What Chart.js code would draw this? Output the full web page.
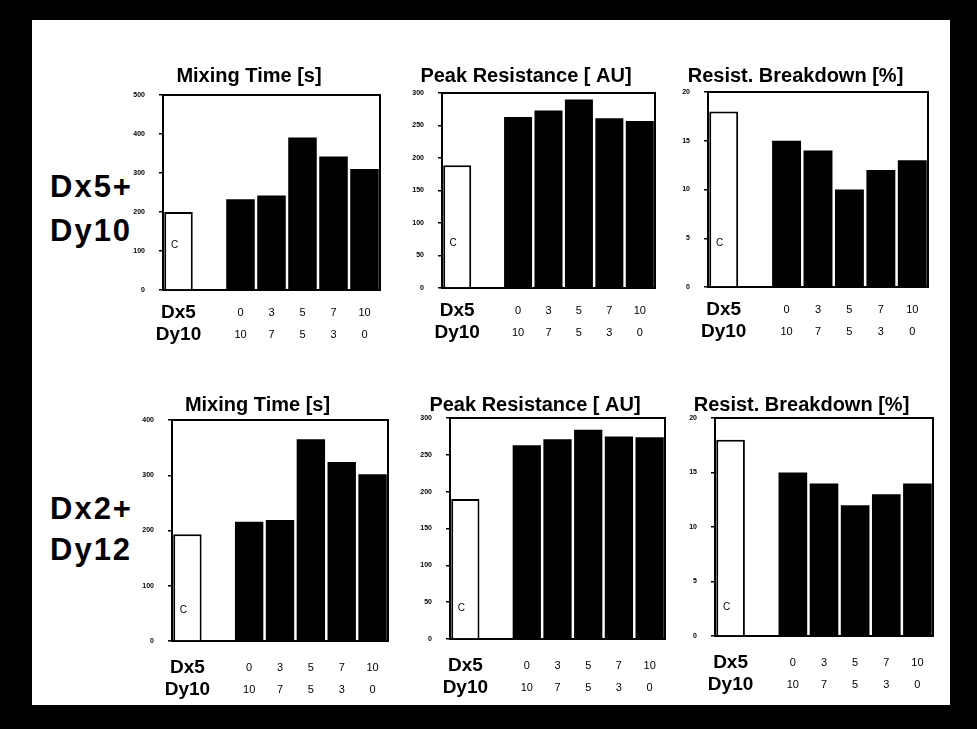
<!DOCTYPE html>
<html>
<head>
<meta charset="utf-8">
<script src="https://cdn.jsdelivr.net/npm/chart.js@4"></script>
<style>
  html, body { margin: 0; padding: 0; background: #000; overflow: hidden; }
  body { width: 977px; height: 729px; position: relative; font-family: "Liberation Sans", Arial, sans-serif; }
  #sheet { position: absolute; left: 32px; top: 20px; width: 918px; height: 685px; background: #fff; }
  canvas { position: absolute; }
  .rowlabel { position: absolute; left: 50px; font-weight: bold; font-size: 31px; letter-spacing: 2px; color: #000; }
</style>
</head>
<body>
<div id="sheet"></div>
<div class="rowlabel" style="top:165px; line-height:44px;">Dx5+<br>Dy10</div>
<div class="rowlabel" style="top:488px; line-height:41px;">Dx2+<br>Dy12</div>

<canvas id="c1"></canvas>
<canvas id="c2"></canvas>
<canvas id="c3"></canvas>
<canvas id="c4"></canvas>
<canvas id="c5"></canvas>
<canvas id="c6"></canvas>

<script>
// x categories: control, empty slot, then the Dx5 / Dy10 ratios
const dx5Labels = ['Dx5', '', '0', '3', '5', '7', '10'];
const dy10Labels = ['Dy10', '', '10', '7', '5', '3', '0'];

// top row: Dx5 + Dy10
const mixingTimeA = [200, null, 233, 242, 391, 342, 310];
const peakResistanceA = [189, null, 263, 273, 290, 261, 257];
const breakdownA = [18, null, 15, 14, 10, 12, 13];

// bottom row: Dx2 + Dy12
const mixingTimeB = [193, null, 216, 219, 365, 324, 302];
const peakResistanceB = [190, null, 263, 271, 284, 275, 274];
const breakdownB = [18, null, 15, 14, 12, 13, 14];

const titles = ['Mixing Time [s]', 'Peak Resistance [ AU]', 'Resist. Breakdown [%]'];

const FONT = '"Liberation Sans", Arial, sans-serif';

// box round the plot area (top and right edges, axes draw the rest)
const framePlugin = {
    id: 'frame',
    afterDraw(chart) {
        const a = chart.chartArea;
        const ctx = chart.ctx;
        ctx.save();
        ctx.strokeStyle = '#000';
        ctx.lineWidth = 2;
        ctx.beginPath();
        ctx.moveTo(a.left, a.top);
        ctx.lineTo(a.right, a.top);
        ctx.lineTo(a.right, a.bottom);
        ctx.stroke();
        ctx.restore();
    }
};

// "C" mark inside the control bar
const controlPlugin = {
    id: 'controlMark',
    afterDatasetsDraw(chart, args, opts) {
        const bar = chart.getDatasetMeta(0).data[0];
        const a = chart.chartArea;
        const ctx = chart.ctx;
        ctx.save();
        ctx.fillStyle = '#000';
        ctx.font = '10px ' + FONT;
        ctx.textAlign = 'center';
        ctx.textBaseline = 'middle';
        ctx.fillText('C', bar.x - 4, a.bottom - opts.frac * (a.bottom - a.top));
        ctx.restore();
    }
};

function makePanel(id, p) {
    const canvas = document.getElementById(id);
    const left = p.L - 45;
    const width = Math.round(2 * (p.titleX - left));
    const top = p.T - 24 - p.titlePad;
    const height = p.B + 60 - top;
    canvas.width = width;
    canvas.height = height;
    canvas.style.left = left + 'px';
    canvas.style.top = top + 'px';

    const labels = dx5Labels.map((d, i) => [d, dy10Labels[i]]);

    new Chart(canvas, {
        type: 'bar',
        data: {
            labels: labels,
            datasets: [{
                data: p.values,
                backgroundColor: p.values.map((v, i) => i === 0 ? '#fff' : '#000'),
                borderColor: '#000',
                borderWidth: p.values.map((v, i) => i === 0 ? 2 : 0),
                categoryPercentage: 1,
                barPercentage: 0.92
            }]
        },
        options: {
            responsive: false,
            animation: false,
            layout: { padding: { left: 0, top: 0, bottom: 0, right: left + width - p.R } },
            plugins: {
                legend: { display: false },
                tooltip: { enabled: false },
                title: {
                    display: true,
                    text: p.title,
                    color: '#000',
                    font: { family: FONT, size: 20, weight: 'bold', lineHeight: 1.2 },
                    padding: { top: 0, bottom: p.titlePad }
                },
                controlMark: { frac: p.cFrac }
            },
            scales: {
                x: {
                    afterFit(scale) { scale.height = 60; },
                    grid: { display: false },
                    border: { display: true, color: '#000', width: 2 },
                    ticks: {
                        color: '#000',
                        padding: p.tickPad,
                        maxRotation: 0,
                        autoSkip: false,
                        font: (c) => c.index === 0
                            ? { family: FONT, size: 19, weight: 'bold', lineHeight: '22px' }
                            : { family: FONT, size: 11, lineHeight: '22px' }
                    }
                },
                y: {
                    min: 0,
                    max: p.max,
                    afterFit(scale) { scale.width = 45; },
                    grid: { drawOnChartArea: false, drawTicks: true, tickLength: 4, color: '#000', lineWidth: 1.5 },
                    border: { display: true, color: '#000', width: 2 },
                    ticks: {
                        stepSize: p.step,
                        color: '#000',
                        padding: 14,
                        font: { family: FONT, size: 7, weight: 'bold' }
                    }
                }
            }
        },
        plugins: [framePlugin, controlPlugin]
    });
}

makePanel('c1', { values: mixingTimeA, title: titles[0], max: 500, step: 100,
    L: 163, R: 380, T: 95, B: 290, titleX: 262, titlePad: 7, tickPad: 4, cFrac: 0.23 });
makePanel('c2', { values: peakResistanceA, title: titles[1], max: 300, step: 50,
    L: 442, R: 655, T: 93, B: 288, titleX: 531, titlePad: 5, tickPad: 4, cFrac: 0.23 });
makePanel('c3', { values: breakdownA, title: titles[2], max: 20, step: 5,
    L: 708, R: 928, T: 92, B: 287, titleX: 835, titlePad: 4, tickPad: 4, cFrac: 0.225 });
makePanel('c4', { values: mixingTimeB, title: titles[0], max: 400, step: 100,
    L: 172, R: 388, T: 420, B: 641, titleX: 268, titlePad: 3, tickPad: 8, cFrac: 0.14 });
makePanel('c5', { values: peakResistanceB, title: titles[1], max: 300, step: 50,
    L: 450, R: 665, T: 418, B: 639, titleX: 549, titlePad: 1, tickPad: 8, cFrac: 0.14 });
makePanel('c6', { values: breakdownB, title: titles[2], max: 20, step: 5,
    L: 715, R: 933, T: 418, B: 636, titleX: 827, titlePad: 1, tickPad: 8, cFrac: 0.13 });
</script>
</body>
</html>
